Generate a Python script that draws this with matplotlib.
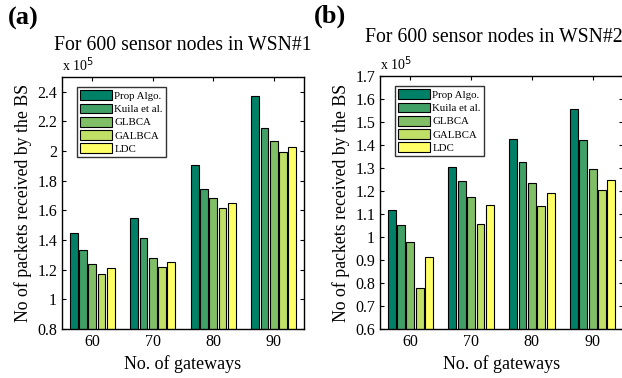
import numpy as np
import matplotlib
matplotlib.use("Agg")
import matplotlib.pyplot as plt
from matplotlib.ticker import FuncFormatter

plt.rcParams['font.family'] = ['Liberation Serif', 'DejaVu Serif']

# data (x 10^5 packets)
gateways = ['60', '70', '80', '90']
methods = ['Prop Algo.', 'Kuila et al.', 'GLBCA', 'GALBCA', 'LDC']

wsn1_prop = [1.446, 1.546, 1.905, 2.371]
wsn1_kuila = [1.331, 1.411, 1.745, 2.155]
wsn1_glbca = [1.238, 1.278, 1.687, 2.067]
wsn1_galbca = [1.171, 1.216, 1.613, 1.997]
wsn1_ldc = [1.209, 1.249, 1.651, 2.031]

wsn2_prop = [1.118, 1.306, 1.425, 1.555]
wsn2_kuila = [1.054, 1.242, 1.327, 1.422]
wsn2_glbca = [0.978, 1.172, 1.236, 1.297]
wsn2_galbca = [0.778, 1.056, 1.134, 1.206]
wsn2_ldc = [0.912, 1.137, 1.193, 1.246]

# MATLAB "summer" colormap, 5 levels
colors = ['#008066', '#40a066', '#80bf66', '#bfdf66', '#ffff66']


def grouped_bars(ax, series, ylim, yticks):
    x = np.arange(1, len(gateways) + 1)
    pitch = 0.154
    for i, vals in enumerate(series):
        ax.bar(x + (i - 2) * pitch, vals, width=0.13, color=colors[i],
               edgecolor='black', linewidth=0.8, label=methods[i], zorder=2)
    ax.set_xlim(0.5, 4.5)
    ax.set_ylim(*ylim)
    ax.set_xticks(x)
    ax.set_xticklabels(gateways)
    ax.set_yticks(yticks)
    ax.yaxis.set_major_formatter(FuncFormatter(lambda v, p: '%g' % round(v, 2)))
    ax.tick_params(direction='in', top=True, right=True, labelsize=11.5,
                   length=3, width=0.8)
    for s in ax.spines.values():
        s.set_linewidth(1.0)
    ax.set_xlabel('No. of gateways', fontsize=13)
    ax.set_ylabel('No of packets received by the BS', fontsize=12.8)
    ax.text(0.0, 1.012, r'x 10$^5$', transform=ax.transAxes, fontsize=10,
            ha='left', va='bottom')
    leg = ax.legend(loc='upper left', bbox_to_anchor=(0.06, 0.96), fontsize=7.8,
                    handlelength=3.0, handleheight=1.0, labelspacing=0.25,
                    handletextpad=0.2, borderpad=0.3, borderaxespad=0.0,
                    frameon=True, fancybox=False, edgecolor='black')
    leg.get_frame().set_linewidth(1.0)


fig = plt.figure(figsize=(6.22, 3.78), dpi=100)
ax1 = fig.add_axes([62 / 622, 49 / 378, 242 / 622, 252 / 378])
ax2 = fig.add_axes([380 / 622, 49 / 378, 243 / 622, 253 / 378])

grouped_bars(ax1, [wsn1_prop, wsn1_kuila, wsn1_glbca, wsn1_galbca, wsn1_ldc],
             (0.8, 2.5), np.arange(0.8, 2.41, 0.2))
grouped_bars(ax2, [wsn2_prop, wsn2_kuila, wsn2_glbca, wsn2_galbca, wsn2_ldc],
             (0.6, 1.7), np.arange(0.6, 1.71, 0.1))

fig.text(183 / 622, 1 - 45 / 378, 'For 600 sensor nodes in WSN#1', fontsize=14.2,
         ha='center', va='center')
fig.text(494 / 622, 1 - 38 / 378, 'For 600 sensor nodes in WSN#2', fontsize=14.2,
         ha='center', va='center')

fig.text(8 / 622, 1 - 18 / 378, '(a)', fontsize=19, fontweight='bold',
         ha='left', va='center')
fig.text(314 / 622, 1 - 16 / 378, '(b)', fontsize=19, fontweight='bold',
         ha='left', va='center')

fig.savefig('out.png', dpi=100)
